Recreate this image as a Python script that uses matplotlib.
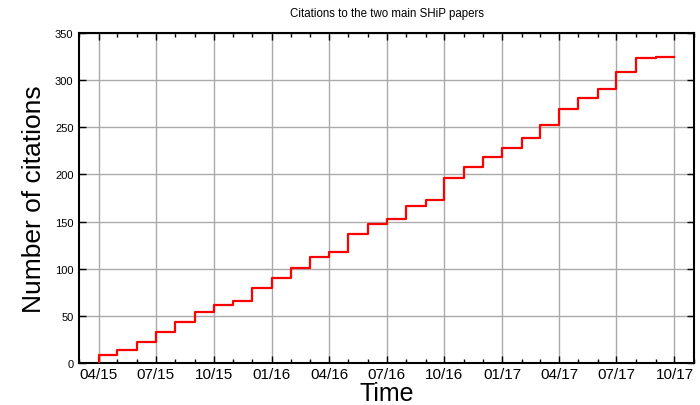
import matplotlib
matplotlib.use("Agg")
import matplotlib.pyplot as plt
import matplotlib.dates as mdates
import numpy as np
import datetime as dt

plt.rcParams['font.family'] = ['Liberation Sans', 'DejaVu Sans']

# Monthly cumulative citations, step starting at each month (04/15 .. 09/17), line ends at 10/17
months = ["2015-04", "2015-05", "2015-06", "2015-07", "2015-08", "2015-09", "2015-10",
          "2015-11", "2015-12", "2016-01", "2016-02", "2016-03", "2016-04", "2016-05",
          "2016-06", "2016-07", "2016-08", "2016-09", "2016-10", "2016-11", "2016-12",
          "2017-01", "2017-02", "2017-03", "2017-04", "2017-05", "2017-06", "2017-07",
          "2017-08", "2017-09", "2017-10"]
citations = [9, 14, 22, 33, 43, 54, 62, 66, 80, 90, 101, 112, 118, 137, 147, 153, 166,
             173, 196, 208, 218, 228, 239, 252, 269, 281, 291, 309, 323, 325]
tick_labels = ["04/15", "07/15", "10/15", "01/16", "04/16", "07/16", "10/16",
               "01/17", "04/17", "07/17", "10/17"]

dates = [dt.datetime.strptime(m, "%Y-%m") for m in months]
xs = [dates[0]] + dates
ys = [0] + citations + [citations[-1]]

fig = plt.figure(figsize=(7.0, 4.06), dpi=100)
ax = fig.add_axes([79/700, 1 - 364/406, (694-79)/700, (364-34)/406])

ax.plot(xs, ys, drawstyle="steps-post", color="#ff0000", lw=1.6, zorder=3)

ax.set_xlim(dt.datetime(2015, 3, 1), dt.datetime(2017, 11, 1))
ax.set_ylim(0, 350)

major = [dt.datetime.strptime(t, "%m/%y") for t in tick_labels]
ax.set_xticks(major)
ax.set_xticklabels(tick_labels)
ax.xaxis.set_minor_locator(mdates.MonthLocator())
ax.set_yticks(np.arange(0, 351, 50))

ax.grid(True, which="major", color="#aaaaaa", lw=1.0, zorder=0)
ax.tick_params(axis="both", which="both", direction="in", top=True, right=True)
ax.tick_params(axis="x", which="major", length=5, width=1, labelsize=11, pad=3)
ax.tick_params(axis="x", which="minor", length=3, width=1)
ax.tick_params(axis="y", which="major", length=5, width=1, labelsize=8, pad=4)
for s in ax.spines.values():
    s.set_linewidth(1.5)

ax.set_title("Citations to the two main SHiP papers", fontsize=8.3, pad=12)
ax.set_xlabel("Time", fontsize=18, labelpad=0)
ax.set_ylabel("Number of citations", fontsize=19)
ax.yaxis.set_label_coords(-0.053, 0.5)

fig.savefig("out.png", dpi=100)
